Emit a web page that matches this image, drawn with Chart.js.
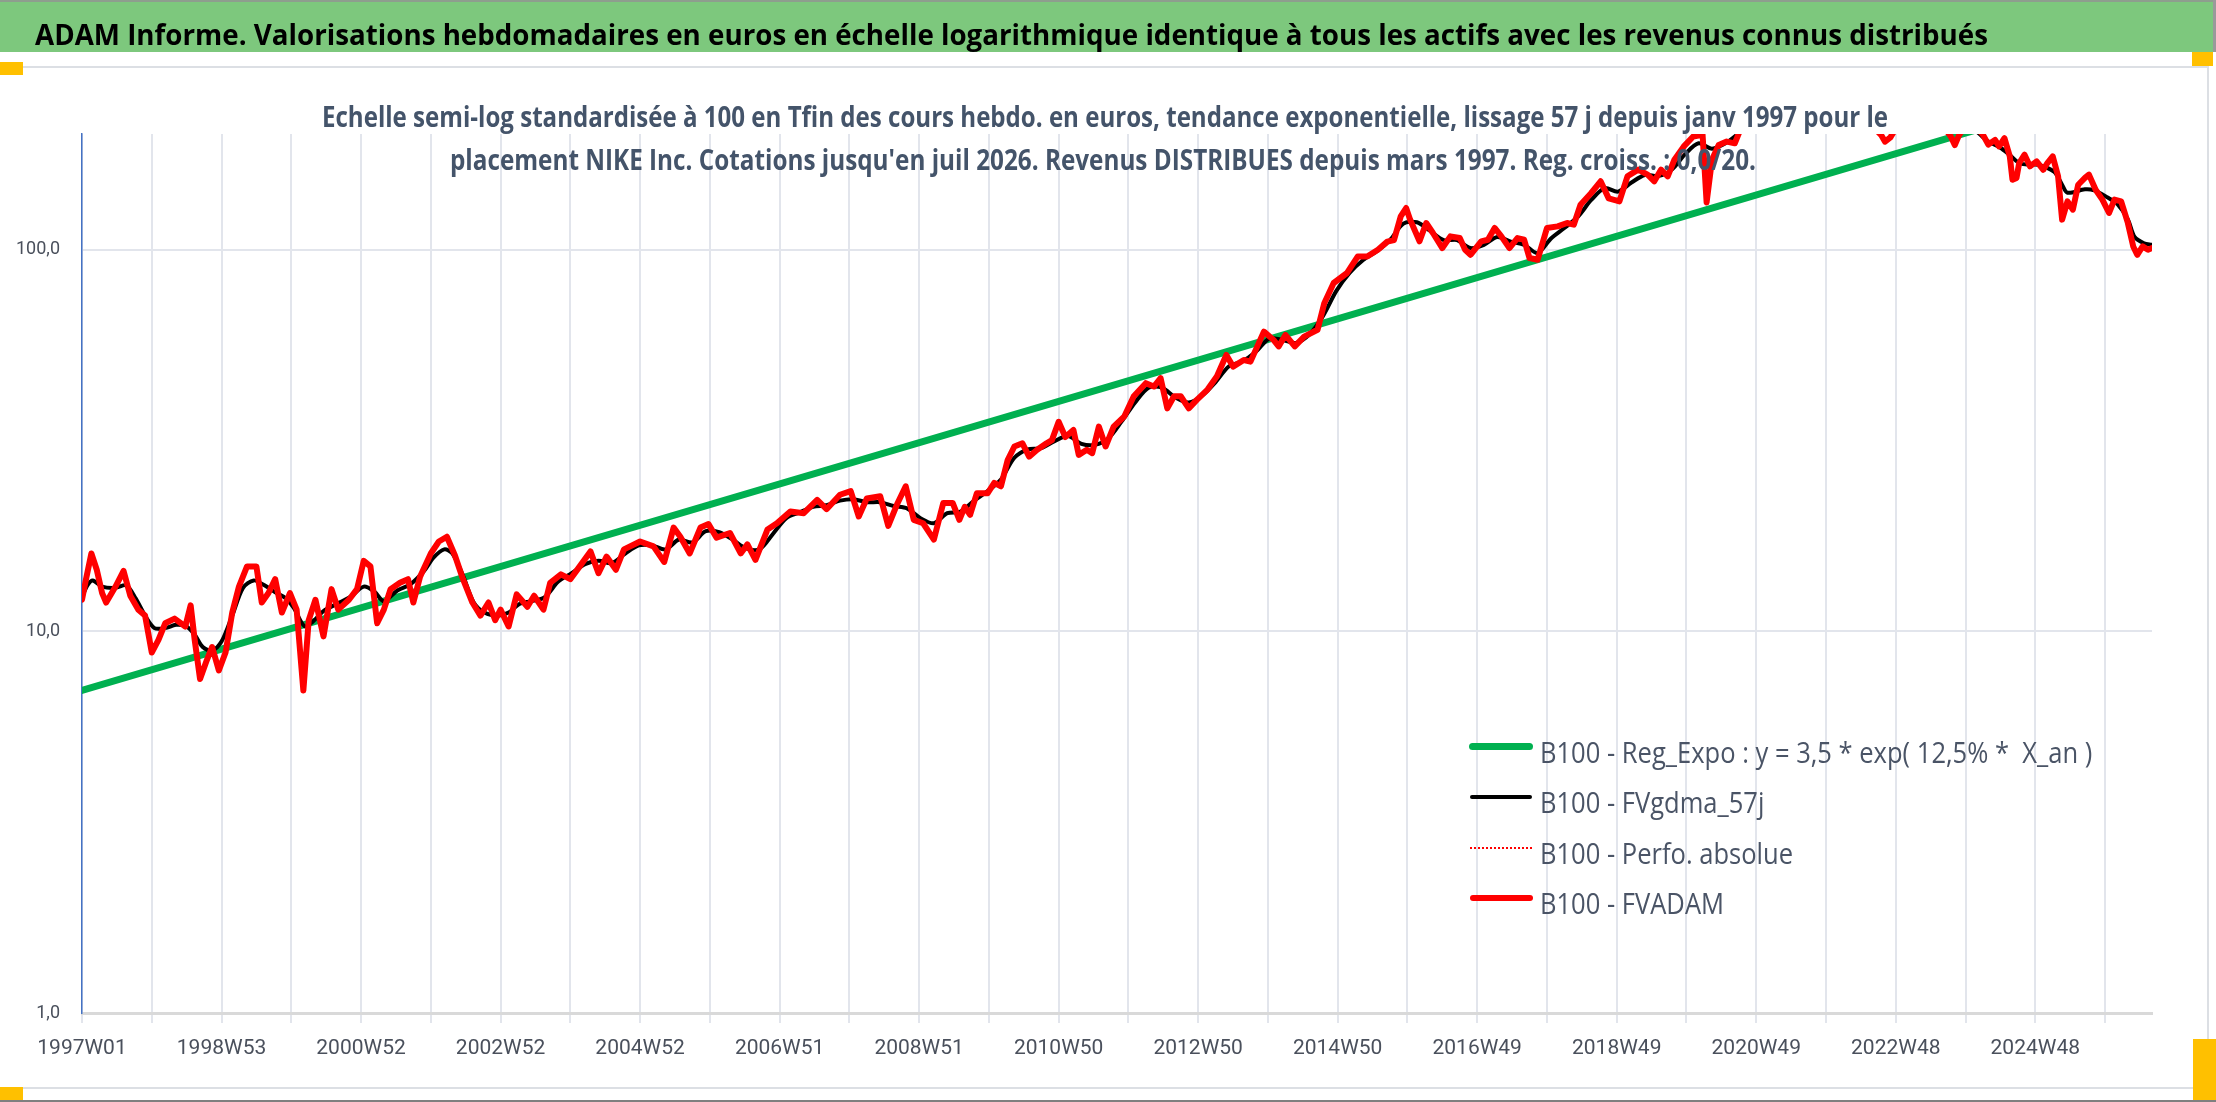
<!DOCTYPE html>
<html lang="fr">
<head>
<meta charset="utf-8">
<title>ADAM Informe - NIKE Inc.</title>
<script src="https://cdn.jsdelivr.net/npm/chart.js@4.4.1/dist/chart.umd.min.js"></script>
<style>
  html, body { margin: 0; padding: 0; background: #ffffff; }
  #page { position: relative; width: 2216px; height: 1102px; overflow: hidden; background: #ffffff; }
  .abs { position: absolute; }
  #topLine { left: 0; top: 0; width: 2216px; height: 2px; background: #8e9e8e; }
  #header { left: 0; top: 2px; width: 2213px; height: 50px; background: #7dc87d; }
  #headerEdge { left: 2213px; top: 0; width: 3px; height: 52px; background: #9a9a9a; }
  #frame { left: 0; top: 66px; width: 2207px; height: 1019px; border-top: 2px solid #dcdfe4; border-right: 2px solid #dcdfe4; border-bottom: 2px solid #dcdfe4; }
  #bottomLine { left: 0; top: 1100px; width: 2216px; height: 2px; background: #7f7f7f; }
  .handle { position: absolute; background: #ffc000; }
  canvas { position: absolute; left: 0; top: 0; z-index: 2; }
  .txt { position: absolute; white-space: pre; transform-origin: 0 0; z-index: 3; line-height: 1; }
  #headText { left: 35px; font: bold 29px "Open Sans", sans-serif; color: #000000; }
  .sub { font: bold 28px "Open Sans", sans-serif; color: #44546a; }
  .leg { left: 1540px; font: 29px "Open Sans", sans-serif; color: #4a5466; }
  .sample { position: absolute; z-index: 3; border-radius: 4px; }
</style>
</head>
<body>
<div id="page">
  <div class="abs" id="topLine"></div>
  <div class="abs" id="header"></div>
  <div class="abs" id="headerEdge"></div>
  <div class="abs" id="frame"></div>
  <div class="abs" id="bottomLine"></div>
  <div class="handle" style="left:0;top:62px;width:23px;height:13px"></div>
  <div class="handle" style="left:2192px;top:52px;width:21px;height:14px"></div>
  <div class="handle" style="left:0;top:1087px;width:23px;height:13px"></div>
  <div class="handle" style="left:2193px;top:1039px;width:23px;height:61px"></div>

  <canvas id="adamChart" width="2216" height="1102"></canvas>

  <div class="txt" id="headText" style="top:14px">ADAM Informe. Valorisations hebdomadaires en euros en échelle logarithmique identique à tous les actifs avec les revenus connus distribués</div>
  <div class="txt sub" id="sub1" style="left:322px;top:97px">Echelle semi-log standardisée à 100 en Tfin des cours hebdo. en euros, tendance exponentielle, lissage 57 j depuis janv 1997 pour le</div>
  <div class="txt sub" id="sub2" style="left:450px;top:140px">placement NIKE Inc. Cotations jusqu'en juil 2026. Revenus DISTRIBUES depuis mars 1997. Reg. croiss. : 0,0/20.</div>

  <div class="sample" style="left:1469px;top:743px;width:64px;height:7px;background:#00b050"></div>
  <div class="sample" style="left:1470px;top:795px;width:62px;height:4px;background:#000000"></div>
  <div class="sample" style="left:1470px;top:847px;width:62px;height:0;border-top:2px dotted #ff0000;border-radius:0"></div>
  <div class="sample" style="left:1470px;top:895px;width:63px;height:6px;background:#ff0000"></div>
  <div class="txt leg" id="leg1" style="top:732px">B100 - Reg_Expo : y = 3,5 * exp( 12,5% *  X_an )</div>
  <div class="txt leg" id="leg2" style="top:782px">B100 - FVgdma_57j</div>
  <div class="txt leg" id="leg3" style="top:833px">B100 - Perfo. absolue</div>
  <div class="txt leg" id="leg4" style="top:883px">B100 - FVADAM</div>
</div>

<script>
// --- axis labels ---
const xTickLabels = ['1997W01', '1998W53', '2000W52', '2002W52', '2004W52', '2006W51', '2008W51',
    '2010W50', '2012W50', '2014W50', '2016W49', '2018W49', '2020W49', '2022W48', '2024W48'];
const yTickValues = [1, 10, 100];
const yTickLabels = ['1,0', '10,0', '100,0'];

// --- series, [week index since 1997W01, base-100 value] ---
const fvadam = [
    [0,12.1],[3,13.7],[7,16.0],[11,14.5],[15,12.6],[18,11.9],[25,13.1],[31,14.4],[36,12.4],[42,11.4],
    [47,11.0],[52,8.8],[57,9.5],[62,10.5],[69,10.8],[77,10.3],[81,11.7],[84,9.5],[88,7.5],[93,8.4],
    [97,9.1],[102,7.9],[107,8.8],[112,11.2],[117,13.1],[123,14.8],[130,14.8],[134,11.9],[139,12.6],[144,13.7],
    [149,11.2],[155,12.6],[160,11.4],[165,7.0],[169,10.7],[174,12.1],[180,9.7],[186,12.9],[191,11.4],[199,12.1],
    [205,12.9],[210,15.3],[215,14.8],[220,10.5],[225,11.4],[230,12.9],[237,13.4],[243,13.7],[247,11.9],[252,13.9],
    [260,16.0],[266,17.2],[272,17.7],[278,15.8],[284,13.7],[291,11.9],[297,11.0],[303,11.9],[308,10.7],[312,11.4],
    [318,10.3],[324,12.5],[332,11.6],[337,12.4],[344,11.4],[349,13.4],[357,14.1],[364,13.7],[371,14.8],[379,16.2],
    [385,14.2],[391,15.7],[398,14.5],[404,16.4],[416,17.2],[426,16.7],[434,15.2],[441,18.7],[446,17.7],[453,16.0],
    [461,18.7],[467,19.1],[473,17.6],[483,18.1],[491,16.0],[496,16.9],[502,15.4],[511,18.5],[518,19.2],[528,20.6],
    [538,20.4],[548,22.1],[555,20.9],[565,22.8],[573,23.3],[579,20.0],[585,22.3],[595,22.6],[601,18.9],[608,21.7],
    [614,24.0],[620,19.6],[627,19.2],[635,17.4],[642,21.7],[649,21.7],[654,19.6],[658,21.2],[662,20.2],[667,23.0],
    [675,23.0],[680,24.5],[685,24.0],[690,28.1],[695,30.5],[701,31.1],[706,28.7],[712,29.9],[719,31.1],[723,31.7],
    [728,35.4],[733,32.3],[739,33.7],[743,29.0],[749,29.9],[753,29.3],[758,34.4],[763,30.5],[769,34.4],[777,36.6],
    [784,41.3],[793,44.7],[799,43.8],[804,46.1],[809,38.4],[814,41.3],[819,41.3],[825,38.4],[831,40.4],[839,43.0],
    [846,46.6],[853,53.0],[858,49.4],[866,51.4],[871,50.9],[881,61.0],[888,58.1],[892,55.8],[897,59.8],[904,55.8],
    [911,59.2],[921,61.7],[926,72.4],[933,81.8],[943,86.9],[951,96.0],[958,96.0],[966,100],[973,105],[978,106],
    [983,122.3],[987,128.6],[990,119.9],[997,105.2],[1002,117.5],[1007,110.6],[1014,101],[1020,108.4],[1027,107.3],[1031,100],
    [1035,97.0],[1043,105.2],[1048,106.2],[1053,114.0],[1058,108.4],[1064,101],[1070,107.3],[1075,106.2],[1079,95.1],[1085,94.1],
    [1092,114.0],[1100,115.1],[1107,117.5],[1112,116.3],[1117,131.2],[1125,140.8],[1132,151.1],[1138,136.3],[1146,133.9],[1152,155.7],
    [1160,162.1],[1167,157.3],[1172,151.1],[1177,162.1],[1182,155.7],[1187,172.1],[1194,186.5],[1201,198],[1208,200],[1211,133],
    [1215,172],[1220,188],[1226,192],[1232,190],[1237,210],[1245,225],[1260,250],[1275,270],[1290,265],[1305,245],
    [1320,225],[1335,210],[1341,200],[1344,192],[1348,197],[1351,205],[1365,225],[1380,220],[1390,205],[1393,198],
    [1396,188],[1399,199],[1405,215],[1412,210],[1417,200],[1421,188.6],[1426,194],[1429,186.6],[1433,196],[1437,175.6],
    [1439,152.5],[1442,154.2],[1444,168.7],[1448,177.4],[1452,165.4],[1457,170.4],[1462,162],[1465,168.7],[1469,175.6],[1473,155.8],
    [1476,119.9],[1480,133.9],[1484,127.3],[1488,148],[1493,154.2],[1496,157.3],[1501,143.6],[1506,135.3],[1511,124.8],[1515,135.3],
    [1520,133.9],[1525,117.5],[1529,102],[1532,97],[1536,102],[1540,100],[1543,101]
];
// "Perfo. absolue" lies under FVADAM on the picture
const perfoAbsolue = fvadam;
const fvgdma57 = [
    [0,12.3],[4,13.2],[8,13.6],[15,13.1],[25,13.0],[33,13.2],[40,12.2],[47,11.0],[54,10.2],[62,10.2],
    [70,10.4],[78,10.3],[84,9.8],[90,9.1],[97,8.9],[104,9.4],[112,11.0],[120,13.0],[128,13.6],[136,13.2],
    [145,12.6],[152,12.2],[158,11.5],[166,10.3],[172,10.6],[180,11.3],[190,11.8],[200,12.3],[210,13.1],[218,12.7],
    [225,12.0],[235,12.8],[245,13.3],[255,14.4],[262,15.6],[270,16.4],[276,16.0],[284,14.0],[292,11.9],[300,11.2],
    [310,11.0],[318,11.2],[326,11.8],[335,12.0],[345,12.3],[355,13.5],[365,14.2],[375,15.0],[385,15.3],[395,15.1],
    [405,16.0],[415,16.8],[425,16.8],[435,16.4],[445,17.4],[455,17.1],[465,18.3],[475,18.2],[485,17.4],[495,16.5],
    [505,16.4],[515,18.0],[525,19.8],[535,20.5],[545,21.2],[555,21.4],[565,22.0],[575,22.2],[585,21.8],[595,21.8],
    [605,21.3],[615,21.0],[625,19.8],[635,19.2],[645,20.4],[655,20.6],[665,22.0],[675,23.3],[685,25.0],[695,28.5],
    [705,30.0],[715,30.2],[725,31.5],[735,32.5],[745,31.0],[755,30.8],[765,32.0],[775,35.5],[785,39.8],[795,43.5],
    [805,43.5],[815,41.0],[825,39.8],[835,41.5],[845,45.0],[855,49.5],[865,51.0],[875,54.0],[885,58.5],[895,58.0],
    [905,57.0],[915,60.0],[925,67.0],[935,78.0],[945,87.0],[955,94.0],[965,99.0],[975,106],[985,117],[995,118],
    [1005,112],[1015,106],[1025,106],[1035,101],[1045,103],[1055,108],[1065,105],[1075,103],[1085,98],[1095,107],
    [1105,114],[1115,122],[1125,135],[1135,145],[1145,142],[1155,150],[1165,157],[1175,156],[1185,162],[1195,178],
    [1205,190],[1215,184],[1225,190],[1235,202],[1250,225],[1270,250],[1290,262],[1310,250],[1330,225],[1345,205],
    [1360,212],[1380,222],[1395,205],[1410,206],[1420,193],[1430,185],[1437,177],[1445,168],[1458,167],[1470,160],
    [1476,148],[1480,141],[1493,144],[1500,143],[1510,137],[1517,132],[1525,120],[1530,108],[1537,104],[1543,103]
];
const regExpo = [[0,7.0],[1543,282]];

const lastWeek = 1543;

function toXY(pairs) {
    return pairs.map(p => ({ x: p[0], y: p[1] }));
}

const tickFont = { family: 'Roboto', size: 21 };
const gridColor = '#e2e5ec';

new Chart(document.getElementById('adamChart'), {
    type: 'line',
    data: {
        datasets: [
            { label: 'B100 - FVADAM', data: toXY(fvadam), borderColor: '#ff0000', borderWidth: 6, order: 1 },
            { label: 'B100 - Perfo. absolue', data: toXY(perfoAbsolue), borderColor: '#ff0000', borderWidth: 2, borderDash: [2, 3], order: 2 },
            { label: 'B100 - FVgdma_57j', data: toXY(fvgdma57), borderColor: '#000000', borderWidth: 4, tension: 0.3, order: 3 },
            { label: 'B100 - Reg_Expo : y = 3,5 * exp( 12,5% *  X_an )', data: toXY(regExpo), borderColor: '#00b050', borderWidth: 7, order: 4 }
        ]
    },
    options: {
        responsive: false,
        animation: false,
        devicePixelRatio: 1,
        layout: { padding: { top: 134, right: 64, left: 0, bottom: 0 } },
        elements: {
            point: { radius: 0, hoverRadius: 0 },
            line: { fill: false, borderJoinStyle: 'round', borderCapStyle: 'round' }
        },
        datasets: { line: { clip: 0 } },
        plugins: { legend: { display: false }, tooltip: { enabled: false } },
        scales: {
            x: {
                type: 'linear',
                min: 0,
                max: lastWeek,
                afterBuildTicks: (scale) => {
                    // one gridline every 52 weeks, a label every 104
                    const t = [];
                    for (let w = 0; w <= lastWeek; w += 52) t.push({ value: w });
                    scale.ticks = t;
                },
                afterFit: (scale) => { scale.height = 89; },
                grid: { color: gridColor, lineWidth: 2, drawTicks: true, tickLength: 10 },
                border: { color: '#d9d9d9', width: 3 },
                ticks: {
                    autoSkip: false,
                    maxRotation: 0,
                    padding: 13,
                    color: '#4a505c',
                    font: tickFont,
                    callback: (v) => (v % 104 === 0 ? xTickLabels[v / 104] : '')
                }
            },
            y: {
                type: 'logarithmic',
                min: 1,
                max: 201,
                afterBuildTicks: (scale) => { scale.ticks = yTickValues.map(v => ({ value: v })); },
                afterFit: (scale) => { scale.width = 82; },
                grid: { color: gridColor, lineWidth: 2, drawTicks: false },
                border: { color: '#4472c4', width: 1.5 },
                ticks: {
                    padding: 22,
                    color: '#4a505c',
                    font: { family: 'Roboto', size: 18 },
                    callback: (v, i) => yTickLabels[i]
                }
            }
        }
    }
});

// squeeze the html texts to the widths they take in the picture
function fitWidth(el, target) {
    el.style.transform = 'none';
    const w = el.getBoundingClientRect().width;
    const k = target / w;
    el.style.transform = 'scaleX(' + k + ')';
    return k;
}
function fitAll() {
    fitWidth(document.getElementById('headText'), 1953);
    fitWidth(document.getElementById('sub1'), 1566);
    fitWidth(document.getElementById('sub2'), 1306);
    const k = fitWidth(document.getElementById('leg4'), 184);
    ['leg1', 'leg2', 'leg3'].forEach(id => {
        document.getElementById(id).style.transform = 'scaleX(' + k + ')';
    });
}
fitAll();
if (document.fonts && document.fonts.ready) document.fonts.ready.then(fitAll);
</script>
</body>
</html>
